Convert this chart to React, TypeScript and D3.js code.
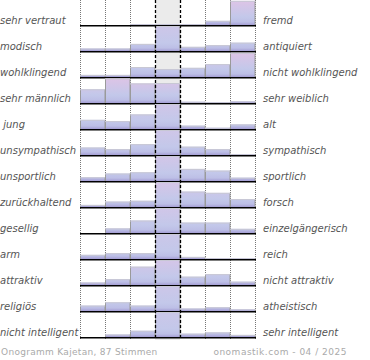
import React from "react";
import * as d3 from "d3";

const leftLabels = ["sehr vertraut","modisch","wohlklingend","sehr männlich"," jung","unsympathisch","unsportlich","zurückhaltend","gesellig","arm","attraktiv","religiös","nicht intelligent"];
const rightLabels = ["fremd","antiquiert","nicht wohlklingend","sehr weiblich","alt","sympathisch","sportlich","forsch","einzelgängerisch","reich","nicht attraktiv","atheistisch","sehr intelligent"];
const columns = [-3, -2, -1, 0, 1, 2, 3];
const rowValues: number[][] = [
  [0, 0, 1, 1, 1, 5, 29],
  [3, 3, 8.5, 62, 5, 7, 10],
  [2.5, 2.5, 12, 9.5, 11, 15.5, 29],
  [16.5, 29.5, 23.5, 24, 1.5, 1, 2],
  [11, 9.5, 17.5, 49, 4, 1.5, 5.5],
  [9, 7, 13, 52, 10, 7, 1],
  [4.5, 9, 10.5, 43, 14.5, 12.5, 4],
  [2.5, 6.5, 7.5, 37, 18.5, 17, 9.5],
  [0, 5.5, 15, 48, 12.5, 12.5, 5],
  [5, 7, 7, 75, 2.5, 1, 1],
  [3, 7, 22, 40, 10, 13, 4],
  [6.5, 10.5, 6.5, 65, 3, 4.5, 2],
  [0, 3, 7.5, 75, 4, 5.5, 2.5],
];
const footerLeft = "Onogramm Kajetan, 87 Stimmen";
const footerRight = "onomastik.com - 04 / 2025";

export default function App() {
  const W = 370, H = 360;
  const x = d3.scaleBand<number>().domain(columns).range([80, 255]).padding(0);
  const rowY = d3.scaleBand<number>().domain(d3.range(leftLabels.length)).range([-1, 337]).padding(0);
  const rowH = 25;
  const h = d3.scaleLinear().domain([0, 30]).range([0, rowH]).clamp(true);
  const hRaw = d3.scaleLinear().domain([0, 30]).range([0, rowH]);
  const bw = x.bandwidth();
  const chartBottom = 340;

  return (
    <svg width={W} height={H} style={{ position: "absolute", left: 0, top: 0, fontFamily: "DejaVu Sans" }}>
      <defs>
        {rowValues.map((vals, i) => {
          const base = (rowY(i) as number) + rowY.bandwidth();
          const maxH = Math.max(hRaw(d3.max(vals) as number), 6);
          return (
            <linearGradient key={i} id={`g${i}`} gradientUnits="userSpaceOnUse" x1={0} x2={0} y1={base - maxH} y2={base}>
              <stop offset="0" stopColor="#ddc4e6" />
              <stop offset={Math.max(0, 1 - 8 / maxH)} stopColor="#c3c8ea" />
              <stop offset={Math.max(0, 1 - 3 / maxH)} stopColor="#bdbfe6" />
              <stop offset="1" stopColor="#a49ed4" />
            </linearGradient>
          );
        })}
      </defs>
      <rect x={x(0)} y={0} width={bw} height={chartBottom} fill="#ebebeb" />
      {[-3, -2, -1, 2, 3].map((c) => (
        <line key={c} x1={(x(c) as number) + 0.5} x2={(x(c) as number) + 0.5} y1={0} y2={chartBottom} stroke="#777" strokeWidth={1} strokeDasharray="1,1" />
      ))}
      <line x1={255.5} x2={255.5} y1={0} y2={chartBottom} stroke="#777" strokeWidth={1} strokeDasharray="1,1" />
      {rowValues.map((vals, i) => {
        const base = (rowY(i) as number) + rowY.bandwidth();
        return (
          <g key={i}>
            {vals.map((v, j) => {
              if (v <= 0) return null;
              const c = columns[j];
              const x0 = x(c) as number;
              const bh = h(v);
              return (
                <g key={j}>
                  <rect x={x0} y={base - bh} width={bw} height={bh} fill={`url(#g${i})`} />
                  <path d={`M${x0 + bw},${base} V${base - bh}`} stroke="#9a9a9a" strokeWidth={1} fill="none" />
                  <path d={`M${x0 + 0.5},${base} V${base - bh}`} stroke="#9a9a9a" strokeWidth={1} fill="none" />
                  <path d={`M${x0},${base - bh + 0.5} H${x0 + bw}`} stroke="#c8c8d4" strokeWidth={1} fill="none" />
                </g>
              );
            })}
            <line x1={80} x2={256} y1={base + 0.75} y2={base + 0.75} stroke="#000" strokeWidth={1.5} />
            <text x={0} y={base - 1} fontSize={10} fontStyle="italic" fill="#555" style={{ whiteSpace: "pre" }}>{leftLabels[i]}</text>
            <text x={263} y={base - 1} fontSize={10} fontStyle="italic" fill="#555">{rightLabels[i]}</text>
          </g>
        );
      })}
      {[0, 1].map((c) => (
        <line key={c} x1={(x(c) as number) + 0.5} x2={(x(c) as number) + 0.5} y1={0} y2={chartBottom} stroke="#000" strokeWidth={1.3} strokeDasharray="3,2" />
      ))}
      <text x={1} y={355} fontSize={9} fill="#aaa" letterSpacing={0.3}>{footerLeft}</text>
      <text x={347} y={355} fontSize={9} fill="#aaa" textAnchor="end" letterSpacing={0.5}>{footerRight}</text>
    </svg>
  );
}
